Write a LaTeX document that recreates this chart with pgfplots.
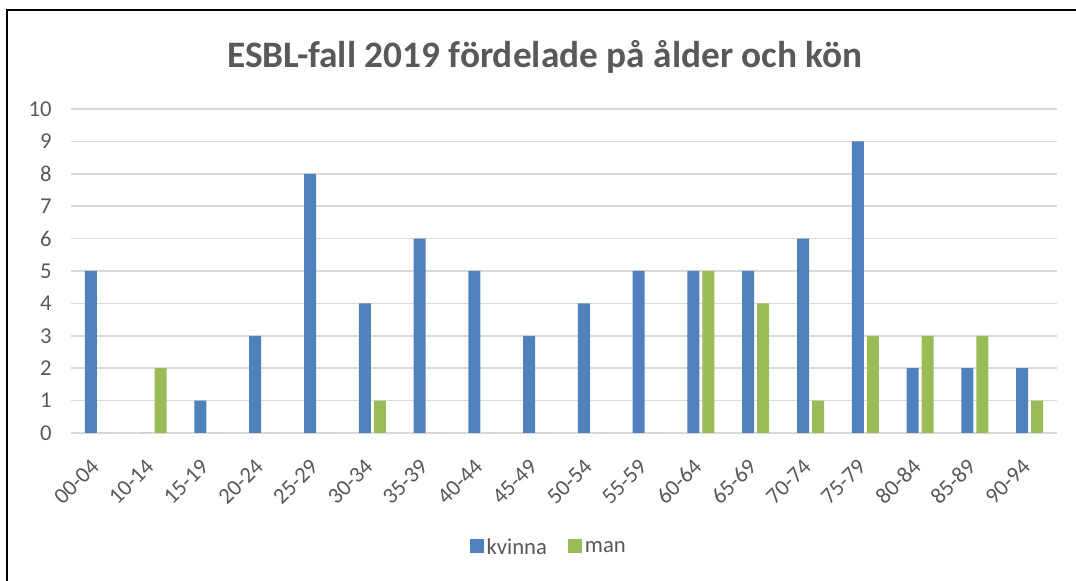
\documentclass[border=0pt]{standalone}
\usepackage{pgfplots}
\pgfplotsset{compat=1.18}
\usepackage{fontspec}
\setmainfont{Carlito}
\definecolor{kv}{HTML}{4F81BD}
\definecolor{mn}{HTML}{9BBB59}
\definecolor{txt}{HTML}{595959}
\definecolor{grd}{HTML}{D9D9D9}
\begin{document}
\begin{tikzpicture}[x=0.75pt,y=0.75pt]
\useasboundingbox (0,0) rectangle (1076,581);
\draw[line width=1.5pt] (7,-5) -- (7,570.5) -- (1080,570.5);
\node[font=\fontsize{28}{32}\selectfont\bfseries, text=txt, anchor=base] at (545,513) {ESBL-fall 2019 fördelade på ålder och kön};
\begin{axis}[
  at={(53.25pt,111pt)}, anchor=south west,
  scale only axis, width=739.5pt, height=243pt,
  ybar=2.25pt, bar width=9pt,
  xmin=-0.5, xmax=17.5, ymin=0, ymax=10,
  axis line style={draw=none},
  major tick length=0pt,
  ytick={0,1,...,10},
  xtick={0,1,...,17},
  xticklabels={00-04,10-14,15-19,20-24,25-29,30-34,35-39,40-44,45-49,50-54,55-59,60-64,65-69,70-74,75-79,80-84,85-89,90-94},
  ymajorgrids, major grid style={grd, line width=1.2pt},
  tick label style={font=\fontsize{17}{20}\selectfont, text=txt},
  /pgf/number format/assume math mode=true,
  yticklabel style={xshift=-11pt},
  xticklabel style={xshift=0pt, yshift=-20pt, rotate=45, anchor=east},
  legend style={at={(0.485,-0.355)}, anchor=center, draw=none, legend columns=2,
    font=\fontsize{17}{20}\selectfont, text=txt,
    /tikz/every even column/.append style={column sep=14pt}},
  legend image code/.code={\fill[#1] (0pt,-4pt) rectangle (10.5pt,6.5pt);},
]
\addplot[fill=kv, draw=none] coordinates {(0,5) (1,0) (2,1) (3,3) (4,8) (5,4) (6,6) (7,5) (8,3) (9,4) (10,5) (11,5) (12,5) (13,6) (14,9) (15,2) (16,2) (17,2)};
\addplot[fill=mn, draw=none] coordinates {(0,0) (1,2) (2,0) (3,0) (4,0) (5,1) (6,0) (7,0) (8,0) (9,0) (10,0) (11,5) (12,4) (13,1) (14,3) (15,3) (16,3) (17,1)};
\legend{kvinna,man}
\end{axis}
\end{tikzpicture}
\end{document}
